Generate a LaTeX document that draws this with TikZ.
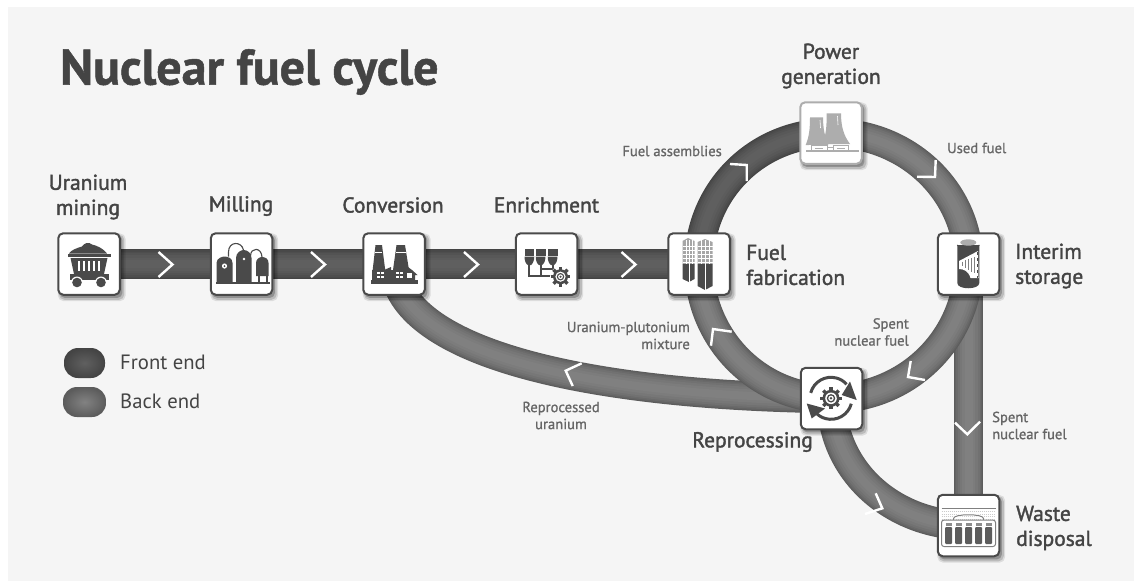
\documentclass[tikz,border=0pt]{standalone}
\usepackage{fontspec}
\setmainfont{PT Sans}
\newfontfamily\semi{PT Sans}[FakeBold=1.7]
\newfontfamily\semismall{PT Sans}[FakeBold=1.0]
\newfontfamily\heavy{PT Sans}[BoldFeatures={FakeBold=1.0}]
\usetikzlibrary{shadows,shapes.misc}
\pgfdeclarelayer{bg}
\pgfsetlayers{bg,main}
\definecolor{ink}{HTML}{444444}
\definecolor{soft}{HTML}{666666}
\definecolor{icon}{HTML}{4A4A4A}
\definecolor{faded}{HTML}{ADADAD}
\definecolor{panel}{HTML}{F5F5F5}
\definecolor{fe}{HTML}{444444}
\definecolor{fc}{HTML}{606060}
\definecolor{be}{HTML}{5C5C5C}
\definecolor{bc}{HTML}{828282}
\tikzset{
  shadowed/.style={
    general shadow={shadow xshift=2.5pt,shadow yshift=-3pt,shadow scale=1.10,fill=black,opacity=.10},
    general shadow={shadow xshift=2.5pt,shadow yshift=-3pt,shadow scale=1.06,fill=black,opacity=.15},
    general shadow={shadow xshift=2pt,shadow yshift=-2.5pt,shadow scale=1.02,fill=black,opacity=.22}},
  stepbox/.style={rectangle,rounded corners=5pt,minimum size=61.5pt,inner sep=0pt,fill=white,draw=icon,line width=2pt,shadowed},
  bigtext/.style={font=\semi\fontsize{21.5}{25}\selectfont,text=ink,align=center,inner sep=0pt},
  bigleft/.style={bigtext,align=left,anchor=west},
  smalltext/.style={font=\semismall\fontsize{14.6}{17}\selectfont,text=soft,inner sep=0pt},
  legendtext/.style={font=\fontsize{20.7}{20}\selectfont,text=ink,inner sep=0pt,anchor=west},
  chevron/.style={draw=white,line width=2.4pt,line join=miter,fill=none},
  pill/.style={rectangle,rounded corners=14pt,inner sep=0pt,minimum height=30pt},
}
\newcommand\band[3]{%
  \foreach \w/\m in {29.5/100,27.5/82,25/64,22/46,18/30,13/15,8/4}{%
    \draw[line width=\w pt,draw=#2!\m!#3] #1;}}
\newcommand\gearglyph[4]{% x,y,r,halo
  \begin{scope}[shift={(#1,#2)}]
    \fill[white] (0,0) circle (#3+#4);
    \foreach \a in {0,45,...,315}{\fill[icon,rotate=\a] (-1.7,-#3-2.4) rectangle (1.7,-#3+1);}
    \fill[icon] (0,0) circle (#3);
    \fill[white] (0,0) circle (#3*.68);
    \fill[icon] (0,0) circle (#3*.5);
    \fill[white] (0,0) circle (#3*.32);
    \fill[icon] (0,0) circle (#3*.16);
  \end{scope}}
\begin{document}
\begin{tikzpicture}[x=1pt,y=-1pt]
\useasboundingbox (0,0) rectangle (1134,581);
\begin{pgfonlayer}{bg}
\fill[white] (0,0) rectangle (1134,581);
\fill[panel] (8,7) rectangle (1134,581);
\end{pgfonlayer}

% boxes
\node[stepbox] (mine) at (89,264) {};
\node[stepbox] (mill) at (241.5,264) {};
\node[stepbox] (conv) at (394,264) {};
\node[stepbox] (enrich) at (546.5,264) {};
\node[stepbox] (fab) at (699,264) {};
\node[stepbox] (power) at (831,133) [draw=faded,general shadow={shadow xshift=1.5pt,shadow yshift=-2pt,fill=black,opacity=.05}] {};
\node[stepbox] (interim) at (968.5,264) {};
\node[stepbox] (repro) at (831.5,398.5) {};
\node[stepbox] (waste) at (968.5,525.5) {};

% bands
\begin{pgfonlayer}{bg}
  \band{(mine.center) -- (mill.center)}{fe}{fc}
  \band{(mill.center) -- (conv.center)}{fe}{fc}
  \band{(conv.center) -- (enrich.center)}{fe}{fc}
  \band{(enrich.center) -- (fab.center)}{fe}{fc}
  \band{(conv.center) .. controls (395,345) and (560,395) .. (repro.center)}{be}{bc}
  \band{(interim.center) -- (waste.center)}{be}{bc}
  \band{(repro.center) .. controls +(0,74) and +(-74,0) .. (waste.center)}{be}{bc}
  \band{(fab.center) .. controls +(0,-73) and +(-74,0) .. (power.center)}{fe}{fc}
  \band{(power.center) .. controls +(76,0) and +(0,-73) .. (interim.center)}{be}{bc}
  \band{(interim.center) .. controls +(0,75) and +(75,0) .. (repro.center)}{be}{bc}
  \band{(repro.center) .. controls +(-73,0) and +(0,75) .. (fab.center)}{be}{bc}
\end{pgfonlayer}

% chevrons
\draw[chevron] (158.5,252) -- (172.5,264.5) -- (158.5,277);
\draw[chevron] (311,252) -- (325,264.5) -- (311,277);
\draw[chevron] (464,252) -- (478,264.5) -- (464,277);
\draw[chevron] (621.5,252) -- (635.5,264.5) -- (621.5,277);
\draw[chevron] (730,164) -- (746.7,165) -- (746.7,181);
\draw[chevron] (935.7,160) -- (935,177) -- (917,176.7);
\draw[chevron] (910.7,361) -- (908,377) -- (925,380);
\draw[chevron] (731.7,331.7) -- (713,329) -- (711,345.7);
\draw[chevron] (581.7,363.3) -- (565.7,370.7) -- (572.7,386);
\draw[chevron] (955,422.7) -- (967.3,434.3) -- (980,421.7);
\draw[chevron] (875.7,493.3) -- (882.3,508.3) -- (865,514);

% mining icon
\begin{scope}[shift={(mine.center)}]
  \fill[icon] (-20,-10.5) .. controls (-18,-14) and (-12,-16) .. (-7,-17.5) .. controls (-5,-21) and (0,-22.5) .. (3,-19.5) .. controls (8,-18.5) and (15,-15) .. (18,-10.5) -- cycle;
  \fill[icon] (-21.5,-10.5) rectangle (21.5,-7);
  \fill[icon] (-18.5,-6) -- (18.5,-6) -- (15,10) -- (-15,10) -- cycle;
  \foreach \x in {-10,-5,0,5,10}{\fill[white] (\x-.9,-3) rectangle (\x+.9,6.5);}
  \fill[icon] (-19.5,10) rectangle (19.5,15.5);
  \fill[white] (-12,18.5) circle (6);\fill[white] (12,18.5) circle (6);
  \fill[icon] (-12,18.5) circle (4.8); \fill[icon] (12,18.5) circle (4.8);
\end{scope}

% milling icon
\begin{scope}[shift={(mill.center)}]
  \fill[icon] (-25,19) -- (-25,-1) .. controls (-25,-6) and (-19,-7.5) .. (-17,-7.5) .. controls (-14,-7.5) and (-9,-6) .. (-9,-1) -- (-9,19) -- cycle;
  \fill[white] (-17,2) circle (2.6); \fill[icon] (-17,2) circle (1);
  \fill[icon] (-5.5,19) -- (-5.5,-6) .. controls (-5.5,-11) and (-1,-14) .. (2,-14) .. controls (6,-14) and (10,-11) .. (10,-6) -- (10,19) -- cycle;
  \fill[white] (2.5,-5) circle (1.4);
  \fill[icon] (14.5,12) -- (14.5,-1) .. controls (14.5,-5) and (18,-7) .. (20.5,-7) .. controls (24,-7) and (27,-5) .. (27,-1) -- (27,12) -- cycle;
  \fill[icon] (16,12) rectangle (18,19); \fill[icon] (24,12) rectangle (26,19);
  \fill[icon] (-25.5,17.5) rectangle (28,20);
  \draw[icon,line width=1.1pt] (-13,-7.5) -- (-13,-12) .. controls (-13,-23) and (0,-23) .. (2,-14);
  \draw[icon,line width=1.1pt] (9,-8) .. controls (9,-17) and (20,-17) .. (20.5,-7);
\end{scope}

% conversion icon
\begin{scope}[shift={(conv.center)}]
  \fill[icon] (-18.5,-19) -- (-12,-19) -- (-8,12) -- (-22,12) -- cycle;
  \fill[icon] (2.5,-19) -- (11,-19) -- (15,6) -- (-1,6) -- cycle;
  \fill[white] (-19,-12.5) rectangle (-12,-11.3);
  \fill[white] (2,-12.5) rectangle (11.5,-11.3);
  \fill[icon] (-22,17) -- (-22,6) -- (-10,6) -- (-3,3) -- (-3,6) -- (2,6) -- (7,3) -- (14,3) -- (18,6) -- (23.5,11) -- (21,11) -- (21,17) -- cycle;
  \fill[icon] (-23,15.5) rectangle (24,19.5);
  \foreach \x in {-17,-13}{\foreach \y in {7.5,11.5}{\fill[white] (\x,\y) rectangle +(2.8,2.4);}}
  \foreach \x in {2,6}{\foreach \y in {7.5,11.5}{\fill[white] (\x,\y) rectangle +(2.8,2.4);}}
  \fill[white] (13,9) rectangle (17.5,14);
\end{scope}

% enrichment icon
\begin{scope}[shift={(enrich.center)}]
  \foreach \x in {-22,-10.8,1.2}{
    \fill[icon] (\x,-15.5) rectangle (\x+9.8,-8.5);
    \fill[icon] (\x,-7.5) -- (\x+9.8,-7.5) .. controls (\x+9.8,-3) and (\x+8,0) .. (\x+6.5,1) -- (\x+3.3,1) .. controls (\x+1.5,0) and (\x,-3) .. (\x,-7.5) -- cycle;}
  \draw[icon,line width=2pt] (-17.5,1) -- (-17.5,11.5) -- (14,11.5);
  \draw[icon,line width=2pt] (-5.9,1) -- (-5.9,4.5) -- (6.1,4.5) -- (6.1,1);
  \draw[icon,line width=2pt] (6.1,4.5) -- (6.1,11.5);
  \draw[icon,line width=2pt] (-5.9,4.5) -- (-5.9,11.5);
  \gearglyph{14}{12.7}{7.5}{3}
\end{scope}

% fabrication icon
\begin{scope}[shift={(fab.center)}]
  \fill[gray!70] (-16.5,-23) -- (-11,-26) -- (-4.5,-23) -- (-4.5,0) -- (-16.5,0) -- cycle;
  \fill[gray!70] (-1.5,-22) -- (6,-25) -- (13.5,-22) -- (13.5,0) -- (-1.5,0) -- cycle;
  \foreach \y in {-18,-14,-10,-6,-2}{
    \draw[white,line width=.7pt] (-16.5,\y) -- (-4.5,\y);
    \draw[white,line width=.7pt] (-1.5,\y) -- (13.5,\y);}
  \foreach \x in {-13,-10,-7}{\draw[white,line width=.4pt] (\x,-24) -- (\x,0);}
  \foreach \x in {2,6,10}{\draw[white,line width=.4pt] (\x,-24) -- (\x,0);}
  \fill[icon] (-16.5,0) -- (-4.5,0) -- (-4.5,15) -- (-10,18) -- (-16.5,15) -- cycle;
  \fill[icon] (-1.5,0) -- (13.5,0) -- (13.5,22) -- (6,26) -- (-1.5,22) -- cycle;
  \draw[white,line width=.5pt] (-10,0) -- (-10,18);
  \draw[white,line width=.5pt] (6,0) -- (6,26);
\end{scope}

% power icon
\begin{scope}[shift={(power.center)}]
  \fill[faded] (-21,-15.7) -- (-8,-15.7) .. controls (-8,-4) and (-6,4) .. (-2.7,12) -- (-25.3,12) .. controls (-22,4) and (-21,-4) .. (-21,-15.7) -- cycle;
  \fill[faded] (-4.3,-19.7) -- (10,-19.7) .. controls (10,-6) and (13,3) .. (19,11) -- (-9,11) .. controls (-5,3) and (-4.3,-6) .. (-4.3,-19.7) -- cycle;
  \fill[white] (-22,12) rectangle (-3,17);
  \draw[faded,line width=1pt] (-20,17.5) -- (-20,12) -- (-4,12) -- (-4,17.5);
  \draw[faded,line width=1pt] (2,17.5) -- (2,12.5) -- (17,12.5) -- (17,17.5);
  \draw[faded,line width=1pt] (-4,14.5) -- (2,14.5);
  \draw[faded,line width=.8pt] (-16,15) -- (-8,15);
  \draw[faded,line width=.8pt] (6,15.5) -- (14,15.5);
  \fill[faded] (-25.5,17) rectangle (27.5,19.3);
  \draw[white,line width=.6pt] (-11,-13) -- (-10.5,-5);
  \draw[white,line width=.6pt] (6.5,-17) -- (7,-8);
\end{scope}

% interim icon
\begin{scope}[shift={(interim.center)}]
  \fill[icon] (-11.2,-19) -- (-11.2,19) .. controls (-11.2,26) and (10.8,26) .. (10.8,19) -- (10.8,-19) -- cycle;
  \fill[faded] (-0.2,-21.5) ellipse (8 and 3.2);
  \draw[icon,line width=1pt] (-11.2,-19) .. controls (-9,-14.5) and (8,-14.5) .. (10.8,-19);
  \fill[white] (-9.5,1) -- (-9.5,-3) -- (9.5,-13) -- (10,14) -- (8,14) -- (2,14) .. controls (0,7) and (-5,5) .. (-9.5,5) -- cycle;
  \foreach \x in {-6.5,-3.5,-.5,2.5,5.5}{\draw[gray,line width=.9pt] (\x,-5+\x*-.4) -- (\x,6+\x*.6);}
  \draw[icon,dashed,line width=.6pt] (8.8,-12) -- (8.8,14);
\end{scope}

% reprocessing icon
\begin{scope}[shift={(repro.center)}]
  \draw[icon,line width=3pt] (-.5,-.2) ++(195:21) arc[start angle=195,end angle=318,radius=21];
  \draw[icon,line width=3pt] (-.5,-.2) ++(15:21) arc[start angle=15,end angle=138,radius=21];
  \fill[icon] (18.5,-17) -- (25.2,1.5) -- (10.2,-3.5) -- cycle;
  \fill[icon] (-24.8,5) -- (-19.8,20) -- (-6.5,10) -- cycle;
  \gearglyph{-.5}{-.2}{8.5}{0}
\end{scope}

% waste icon
\begin{scope}[shift={(waste.center)}]
  \draw[gray,line width=.9pt] (-27,-17.2) -- (27,-17.2);
  \foreach \y in {-14,-11.5,-9,-6.5}{\draw[gray!40,line width=.7pt,dash pattern=on 1pt off 1pt] (-27,\y) -- (27,\y);}
  \draw[white,line width=2.5pt] (-15,-5) -- (-15,-7) .. controls (-15,-12) and (15,-12) .. (15,-7) -- (15,-5);
  \draw[gray,line width=1pt] (-15,-5) -- (-15,-7) .. controls (-15,-12) and (15,-12) .. (15,-7) -- (15,-5);
  \fill[white] (-27,-6) rectangle (27,22);
  \draw[gray,line width=1pt,rounded corners=2.5pt] (-27,-5.5) rectangle (27,21);
  \foreach \x in {-20,-10,0,10,20}{
    \fill[gray!90] (\x-3,-3) rectangle (\x+3,0.5);
    \fill[soft!90!black,rounded corners=1pt] (\x-3.5,1.5) rectangle (\x+3.5,18.5);}
\end{scope}

% legend
\node[pill,minimum width=41pt,shade,inner color=fc,outer color=fe] (legf) at (84.5,363) {};
\node[pill,minimum width=43pt,shade,inner color=bc,outer color=be] (legb) at (84.5,402) {};

% texts
\node[font=\heavy\bfseries\fontsize{50}{50}\selectfont,text=ink,inner sep=0pt,anchor=west] (title) at (60,72) {Nuclear fuel cycle};
\node[bigtext] (tmine) at (88,197) {Uranium\\mining};
\node[bigtext] (tmill) at (241,206) {Milling};
\node[bigtext] (tconv) at (393,205) {Conversion};
\node[bigtext] (tenr) at (546.5,205) {Enrichment};
\node[bigtext] (tpow) at (831,66) {Power\\generation};
\node[bigleft] (tfab) at (746,265) {Fuel\\fabrication};
\node[bigleft] (tint) at (1015,266) {Interim\\storage};
\node[bigtext,anchor=east] (trep) at (813,442) {Reprocessing};
\node[bigleft] (twas) at (1016,528) {Waste\\disposal};
\node[smalltext,anchor=east] (lfa) at (722,151) {Fuel assemblies};
\node[smalltext,anchor=west] (luf) at (947,148) {Used fuel};
\node[smalltext,align=right,anchor=east] (lum) at (690,335.5) {Uranium-plutonium\\mixture};
\node[smalltext,align=right,anchor=east] (lsp) at (909,332) {Spent\\nuclear fuel};
\node[smalltext,align=left,anchor=west] (lsv) at (992,425.5) {Spent\\nuclear fuel};
\node[smalltext,align=center] (lru) at (561,415.5) {Reprocessed\\uranium};
\node[legendtext] (lf) at (120,362) {Front end};
\node[legendtext] (lb) at (120,401) {Back end};
\end{tikzpicture}
\end{document}
